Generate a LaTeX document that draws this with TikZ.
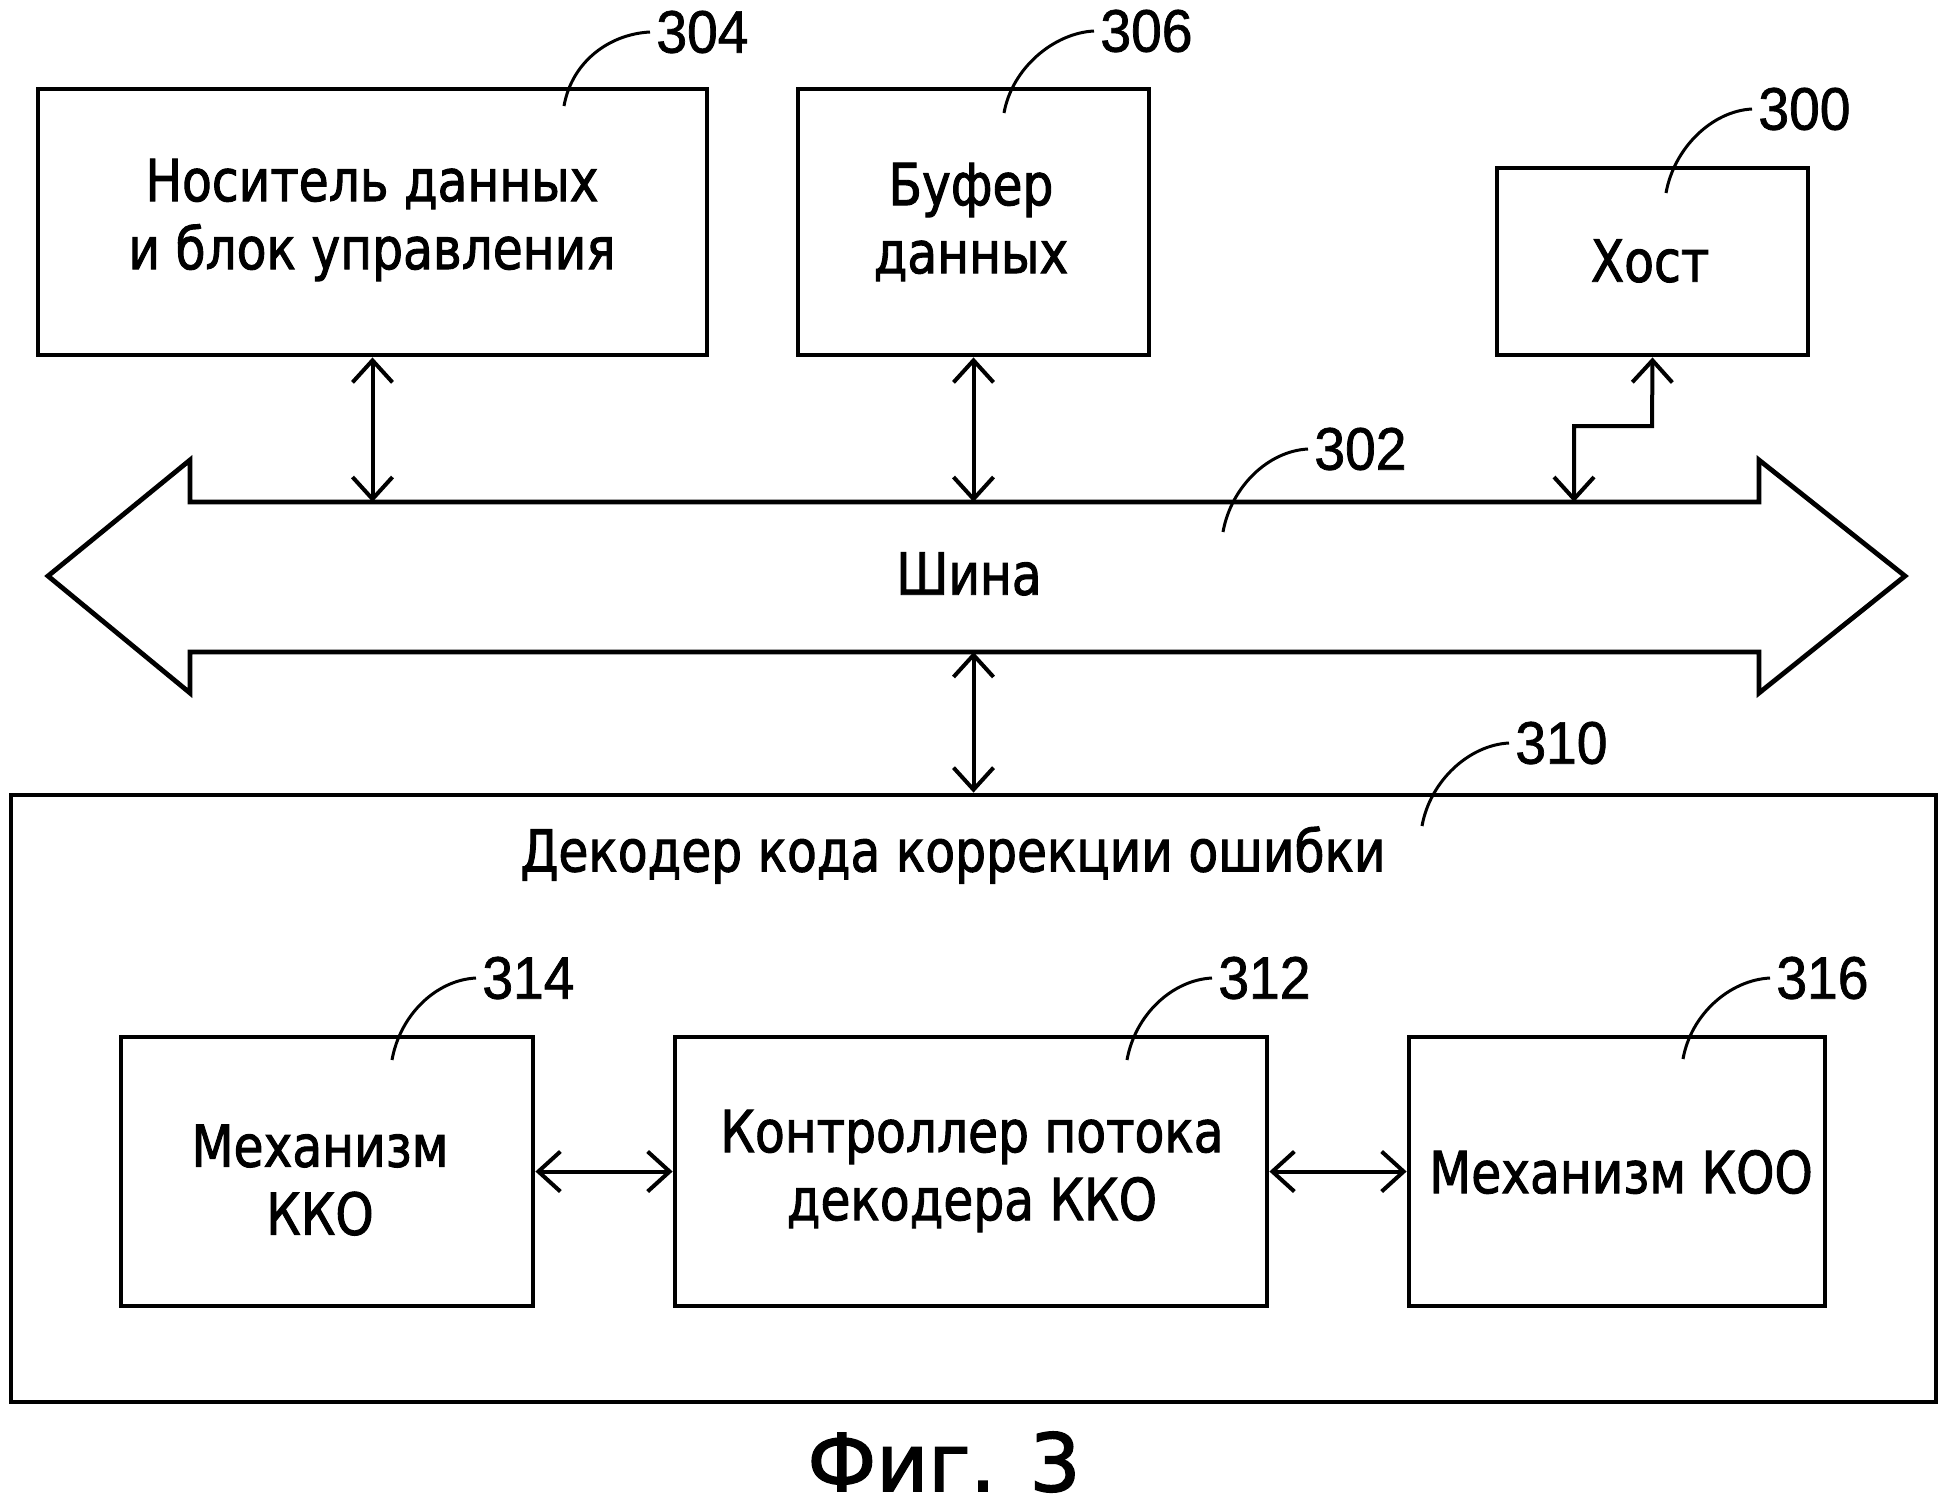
\documentclass[tikz,border=0pt]{standalone}
\usepackage{fontspec}
\usetikzlibrary{arrows.meta}
\newfontfamily\lblfont{DejaVu Sans}[FakeStretch=0.84,FakeBold=1.6]
\newfontfamily\numfont{Liberation Sans}[FakeStretch=0.92,FakeBold=1.2]
\newfontfamily\figfont{DejaVu Sans}[FakeBold=2]
\begin{document}
\begin{tikzpicture}[x=0.5pt,y=-0.5pt,
  box/.style={draw, line width=2.4pt, inner sep=0pt},
  lbl/.style={font=\lblfont\fontsize{29}{34}\selectfont, align=center, inner sep=0pt},
  num/.style={font=\numfont\fontsize{30}{36}\selectfont, anchor=west, inner sep=3pt},
  lead/.style={line width=1.5pt},
  conn/.style={line width=2pt, {Straight Barb[length=11pt,width=20pt]}-{Straight Barb[length=11pt,width=20pt]}},
]
\useasboundingbox (0,0) rectangle (1948,1510);
\fill[white] (0,0) rectangle (1948,1510);

% boxes
\node[box, minimum width=334.5pt, minimum height=133pt] (b304) at (372.5,222) {};
\node[box, minimum width=175.5pt, minimum height=133pt] (b306) at (973.5,222) {};
\node[box, minimum width=155.5pt, minimum height=93.5pt] (b300) at (1652.5,261.5) {};
\node[box, minimum width=962.5pt, minimum height=303.5pt] (dec) at (973.5,1098.5) {};
\node[box, minimum width=206pt, minimum height=134.5pt] (b314) at (327,1171.5) {};
\node[box, minimum width=296pt, minimum height=134.5pt] (b312) at (971,1171.5) {};
\node[box, minimum width=208pt, minimum height=134.5pt] (b316) at (1617,1171.5) {};

% bus
\draw[line width=2.4pt, line join=miter] (190,502) -- (1759,502) -- (1759,460) -- (1905,576) -- (1759,693) -- (1759,652) -- (190,652) -- (190,693) -- (48,576) -- (190,460) -- cycle;
\coordinate (bt) at (0,502);
\coordinate (bb) at (0,652);
\coordinate (hb) at (1574,502);
\coordinate (hs1) at (1574,426);
\coordinate (hs2) at (1652,426);

% texts
\node[lbl] (t304) at (372,220) {Носитель данных\\и блок управления};
\node[lbl] (t306) at (971,222) {Буфер\\данных};
\node[lbl] (t300) at (1650,261) {Хост};
\node[lbl] (tbus) at (969,574) {Шина};
\node[lbl] (tdec) at (953,855) {Декодер кода коррекции ошибки};
\node[lbl] (t314) at (320,1180) {Механизм\\ККО};
\node[lbl] (t312) at (972,1171) {Контроллер потока\\декодера ККО};
\node[lbl] (t316) at (1621,1172) {Механизм КОО};
\node[font=\figfont\fontsize{40}{45}\selectfont, inner sep=0pt] (fig) at (944,1462) {Фиг. 3};

% connectors
\draw[conn] (b304.south) -- (b304.south |- bt);
\draw[conn] (b306.south) -- (b306.south |- bt);
\draw[conn] (bb -| dec.north) -- (dec.north);
\draw[conn] (hb) -- (hs1) -- (hs2) -- (b300.south);
\draw[conn] (b314.east) -- (b312.west);
\draw[conn] (b312.east) -- (b316.west);

% reference numerals
\node[num] (n304) at (650,32) {304};
\node[num] (n306) at (1094,31) {306};
\node[num] (n300) at (1752,109) {300};
\node[num] (n302) at (1308,449) {302};
\node[num] (n310) at (1509,743) {310};
\node[num] (n314) at (476,978) {314};
\node[num] (n312) at (1212,978) {312};
\node[num] (n316) at (1770,978) {316};

\coordinate (c304) at (564,106);
\coordinate (c306) at (1004,113);
\coordinate (c300) at (1666,193);
\coordinate (c302) at (1223,532);
\coordinate (c310) at (1422,826);
\coordinate (c314) at (392,1060);
\coordinate (c312) at (1127,1060);
\coordinate (c316) at (1683,1059);

\foreach \k in {304,306,300,302,310,314,312,316}{
  \draw[lead] (c\k) .. controls +(8,-45) and +(-40,2) .. (n\k.west);
}
\end{tikzpicture}
\end{document}
